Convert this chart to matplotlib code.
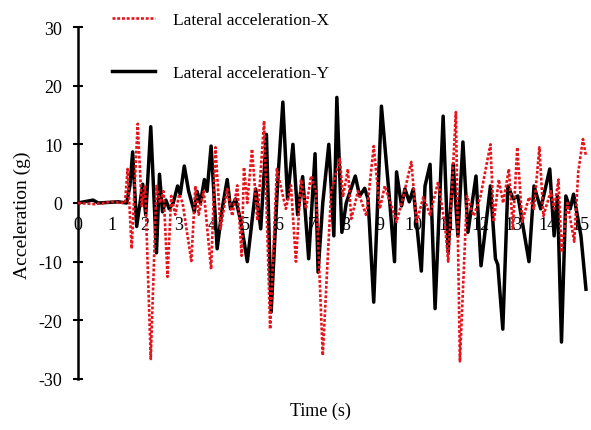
import numpy as np
import matplotlib
matplotlib.use('Agg')
import matplotlib.pyplot as plt

plt.rcParams['font.family'] = ['Liberation Serif', 'DejaVu Serif']
plt.rcParams['axes.unicode_minus'] = False

# lateral acceleration X (red dotted), peaks/troughs
t_x = [0, 0.5, 1.0, 1.4, 1.48, 1.6, 1.78, 1.9, 2.0, 2.17, 2.34, 2.45, 2.55, 2.67,
       2.78, 2.9, 3.02, 3.12, 3.38, 3.5, 3.6, 3.75, 3.97, 4.1, 4.25, 4.45, 4.6,
       4.75, 4.88, 4.95, 5.05, 5.19, 5.35, 5.55, 5.73, 5.93, 6.2, 6.35, 6.5, 6.65,
       6.8, 6.95, 7.1, 7.3, 7.55, 7.81, 7.9, 8.05, 8.15, 8.35, 8.6, 8.82, 9.0,
       9.15, 9.5, 9.7, 9.94, 10.1, 10.3, 10.5, 10.74, 10.95, 11.04, 11.27, 11.39,
       11.6, 11.8, 12.0, 12.3, 12.4, 12.55, 12.68, 12.85, 12.97, 13.1, 13.25,
       13.45, 13.6, 13.76, 13.88, 14.1, 14.2, 14.33, 14.42, 14.6, 14.8, 14.92,
       15.06, 15.15]
acc_x = [0, -0.2, 0.2, 0, 5.8, -7.8, 13.5, -0.5, 3, -26.6, 2.9, 0, 2, -12.6,
         1.2, -2, 1.5, 0, -9.9, 2.9, -2, 2, -11.3, 9.5, -4.4, 2.4, -2.2,
         3, -9, 6.1, 0, 9.2, -3, 14, -21.5, 5.8, -1, 3, -10, 4,
         -1, 4.6, 2, -26, 2, 7.5, 1, 5.8, -2.7, 2, -2.2, 9.7, -1,
         2.9, -3.2, 1, 7, -3.2, 1, -2, 3.6, -4, -10, 15.5, -27,
         1.2, -2.2, 1, 10, -3.2, 4, 0, 5.8, -4.4, 9.5, -3.2,
         1, -1, 9.5, -2.2, 2, -1, 4, -8.4, 0, -6.6, 5.3,
         10.9, 8]

# lateral acceleration Y (black solid)
t_y = [0, 0.45, 0.6, 1.2, 1.45, 1.55, 1.63, 1.75, 1.93, 2.02, 2.17, 2.34, 2.43,
       2.52, 2.62, 2.72, 2.84, 2.97, 3.05, 3.17, 3.3, 3.47, 3.55, 3.65, 3.77,
       3.85, 3.97, 4.15, 4.3, 4.45, 4.55, 4.7, 4.85, 5.05, 5.3, 5.45, 5.62,
       5.76, 5.95, 6.11, 6.25, 6.41, 6.55, 6.7, 6.88, 7.07, 7.16, 7.3, 7.48,
       7.63, 7.72, 7.87, 8.0, 8.27, 8.4, 8.55, 8.65, 8.82, 9.05, 9.3, 9.44,
       9.5, 9.65, 9.75, 9.88, 10.0, 10.24, 10.35, 10.5, 10.65, 10.89, 11.04,
       11.19, 11.33, 11.48, 11.63, 11.87, 12.02, 12.3, 12.45, 12.52, 12.67,
       12.82, 12.98, 13.12, 13.45, 13.6, 13.8, 14.07, 14.2, 14.3, 14.42,
       14.55, 14.68, 14.78, 15.0, 15.15]
acc_y = [0, 0.5, 0, 0.2, 0, 3, 8.7, -4, 3.2, -2, 13, -8.5, 4.9,
         -1.5, 0.5, -1, 0, 2.9, 1.5, 6.3, 2, -1.5, 2, 0, 4,
         2, 9.7, -7.8, -1, 4, -1, 0.7, -3, -10, 2.4, -4.4, 11.7,
         -18.6, 3, 17.2, 0.7, 10, -2, 4.5, -9.5, 8.4, -11.8, 0, 10,
         -5.6, 18, -5, 0, 4.6, 1.2, 2.5, 0.7, -16.9, 16.5, 0, -10,
         5.3, -0.5, 2.4, 0.2, 2.4, -11.6, 2.9, 6.6, -18, 14.8, -8.4,
         6.6, -5.6, 10.4, -5, 4.6, -10.7, 2.9, -9.5, -10.5, -21.5,
         2.9, 0.7, 1.2, -10, 2.9, -1, 5.8, -5.6, 1.2, -23.7,
         1.2, -1, 1.5, -5.6, -14.7]

y_ticks = [-30, -20, -10, 0, 10, 20, 30]
x_ticks = list(range(0, 16))

fig = plt.figure(figsize=(5.91, 4.31), dpi=100)
ax = fig.add_axes([78 / 591, 1 - 380 / 431, 1 - 78 / 591, 352 / 431])

ax.plot(t_x, acc_x, color='#e8141c', linestyle=(0, (1.1, 0.7)), lw=1.9,
        label='Lateral acceleration-X', zorder=3)
ax.plot(t_y, acc_y, color='black', lw=2.5, label='Lateral acceleration-Y', zorder=2)

ax.set_xlim(0, 15.3)
ax.set_ylim(-30, 30)
ax.set_yticks(y_ticks)
ax.set_xticks(x_ticks)

for s in ['top', 'right']:
    ax.spines[s].set_visible(False)
ax.spines['left'].set_linewidth(1.8)
ax.spines['bottom'].set_position(('data', 0))
ax.spines['bottom'].set_color('none')

ax.tick_params(axis='y', direction='inout', length=7, width=1.5, pad=8, labelsize=13)
ax.tick_params(axis='x', length=0, pad=9, labelsize=13)

fig.text(320 / 591, 1 - 411 / 431, 'Time (s)', ha='center', va='center', fontsize=13)
fig.text(22 / 591, 1 - 215 / 431, 'Acceleration (g)', ha='center', va='center',
         rotation=90, fontsize=14)

fig.legend(loc='upper left', bbox_to_anchor=(112 / 591, 1 - 13 / 431), frameon=False,
           fontsize=12.5, handlelength=2.5, handletextpad=1.0, labelspacing=2.1,
           borderpad=0, borderaxespad=0)

fig.savefig('out.png', dpi=100)
